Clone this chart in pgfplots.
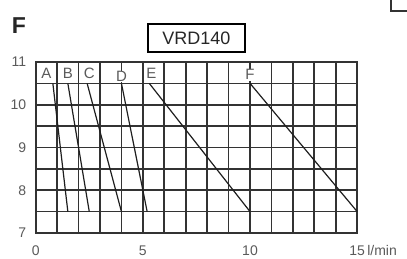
\documentclass[border=0pt]{standalone}
\usepackage{fontspec}
\setmainfont{Liberation Sans}
\usepackage{pgfplots}
\pgfplotsset{compat=1.18}
\definecolor{gridc}{HTML}{333333}
\definecolor{tickc}{HTML}{5A5A5A}
\definecolor{linec}{HTML}{1E1E1E}
\begin{document}
\begin{tikzpicture}[x=1pt,y=1pt]
\useasboundingbox (0,0) rectangle (407,259);
\node[font=\fontsize{23}{23}\selectfont\bfseries, text=black!85] at (19,233) {F};
\node[draw, line width=1.3pt, minimum width=97pt, minimum height=28pt, inner sep=0pt,
      font=\fontsize{18}{18}\selectfont, text=black!85] at (196.5,221) {VRD140};
\draw[line width=1.3pt, black!80] (391,262) -- (391,248) -- (420,248);
\begin{axis}[
  at={(35.7pt,26pt)}, anchor=south west,
  scale only axis, width=321.5pt, height=171pt,
  xmin=0, xmax=15, ymin=7, ymax=11,
  xtick={0,5,10,15},
  xticklabels={0,5,10,{15\rlap{\,l/min}}},
  minor xtick={1,2,3,4,6,7,8,9,11,12,13,14},
  ytick={7,8,9,10,11},
  minor ytick={7.5,8.5,9.5,10.5},
  grid=both,
  major grid style={line width=1.7pt, gridc},
  minor grid style={line width=1.7pt, gridc},
  axis line style={line width=1.7pt, gridc},
  major tick length=0pt, minor tick length=0pt,
  tick label style={font=\fontsize{14}{14}\selectfont, text=tickc},
  /pgf/number format/assume math mode=true,
  xticklabel style={yshift=-9pt},
  yticklabel style={xshift=-6pt},
  clip=false,
]
\addplot[line width=1.2pt, linec] coordinates {(0.8,10.5) (1.5,7.5)};
\addplot[line width=1.2pt, linec] coordinates {(1.5,10.5) (2.5,7.5)};
\addplot[line width=1.2pt, linec] coordinates {(2.4,10.5) (4.0,7.5)};
\addplot[line width=1.2pt, linec] coordinates {(4.0,10.5) (5.2,7.5)};
\addplot[line width=1.2pt, linec] coordinates {(5.3,10.5) (10.0,7.5)};
\addplot[line width=1.2pt, linec] coordinates {(10.0,10.5) (15.0,7.5)};
\begin{scope}[every node/.style={font=\fontsize{15}{15}\selectfont, text=tickc, fill=white, inner sep=0.6pt}]
\node at (axis cs:0.5,10.74) {A};
\node at (axis cs:1.5,10.74) {B};
\node at (axis cs:2.5,10.74) {C};
\node at (axis cs:4.0,10.66) {D};
\node at (axis cs:5.4,10.74) {E};
\node at (axis cs:10.0,10.7) {F};
\end{scope}
\end{axis}
\end{tikzpicture}
\end{document}
